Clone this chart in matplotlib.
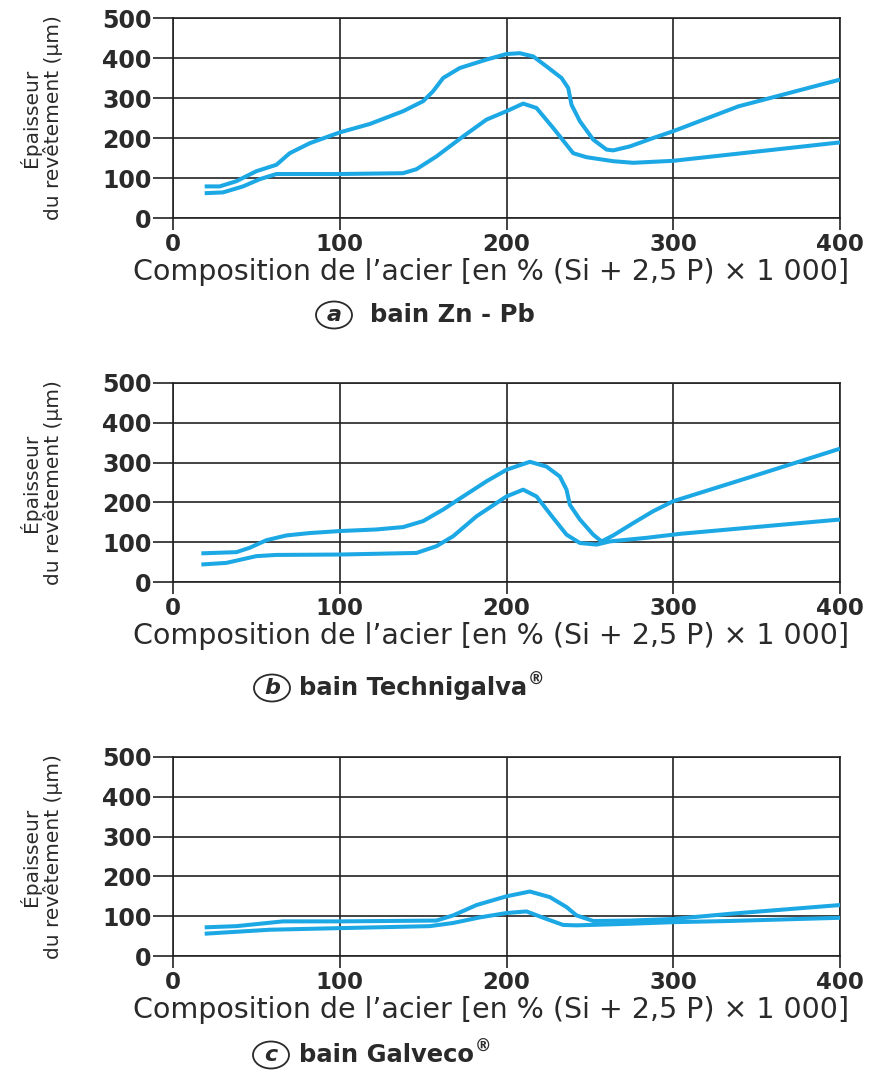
import numpy as np
import matplotlib.pyplot as plt
from matplotlib.patches import Ellipse

plt.rcParams['font.family'] = ['DejaVu Sans']

# panel (a) bain Zn - Pb
xa_up = [19, 28, 38, 50, 62, 70, 82, 100, 118, 138, 150, 156, 162, 172, 188, 200, 208, 216,
         224, 233, 237, 239, 244, 252, 260, 264, 274, 288, 300, 339, 400]
ya_up = [79, 79, 92, 117, 133, 162, 187, 214, 235, 267, 292, 317, 350, 375, 396, 410, 412, 404,
         379, 350, 325, 283, 242, 196, 171, 169, 179, 200, 217, 279, 346]
xa_lo = [19, 30, 42, 52, 62, 100, 138, 146, 158, 174, 188, 200, 210, 218, 228, 236, 240, 248,
         264, 276, 300, 400]
ya_lo = [62, 64, 79, 97, 110, 110, 112, 122, 154, 204, 246, 267, 286, 275, 225, 183, 162, 152,
         142, 138, 143, 189]

# panel (b) bain Technigalva
xb_up = [17, 38, 46, 56, 68, 82, 100, 122, 138, 150, 162, 174, 188, 200, 214, 224, 232, 236,
         238, 244, 252, 257, 264, 276, 288, 300, 345, 400]
yb_up = [72, 75, 86, 105, 117, 123, 128, 132, 138, 153, 182, 215, 253, 282, 302, 290, 265, 232,
         194, 157, 119, 102, 117, 148, 178, 203, 262, 335]
xb_lo = [17, 32, 50, 62, 100, 146, 158, 168, 182, 200, 210, 218, 228, 236, 244, 254, 262, 284,
         304, 400]
yb_lo = [44, 48, 65, 68, 69, 73, 90, 115, 165, 215, 232, 215, 161, 119, 98, 94, 102, 111,
         121, 157]

# panel (c) bain Galveco
xc_up = [19, 38, 66, 100, 158, 168, 182, 200, 214, 226, 236, 242, 252, 274, 300, 334, 400]
yc_up = [72, 75, 87, 87, 89, 102, 128, 150, 162, 148, 123, 102, 88, 89, 93, 106, 128]
xc_lo = [19, 58, 100, 154, 168, 184, 200, 212, 224, 234, 242, 274, 300, 334, 400]
yc_lo = [56, 66, 70, 75, 83, 97, 108, 112, 93, 78, 77, 81, 85, 88, 96]

x_ticks = [0, 100, 200, 300, 400]
y_ticks = [0, 100, 200, 300, 400, 500]
xlabel = 'Composition de l\u2019acier [en % (Si + 2,5 P) \u00d7 1 000]'
ylabel = '\u00c9paisseur\ndu rev\u00eatement (\u00b5m)'
letters = ['a', 'b', 'c']
captions = ['bain Zn - Pb', 'bain Technigalva', 'bain Galveco']
registered = [False, True, True]

panels = [((xa_up, ya_up), (xa_lo, ya_lo)),
          ((xb_up, yb_up), (xb_lo, yb_lo)),
          ((xc_up, yc_up), (xc_lo, yc_lo))]

W, H = 872, 1075
fig = plt.figure(figsize=(W / 100, H / 100), dpi=100)

blue = '#1ca8e4'
dark = '#222222'
txt = '#2a2a2a'

# pixel layout: (top, bottom) of each plot area, caption centre y, circle x, text x
tops = [18, 383, 757]
bots = [218, 582, 956]
cap_y = [315, 688, 1055]
circ_x = [334, 272, 271]
cap_x = [370, 299, 299]
left, right = 173, 840

for i, (curves, top, bot) in enumerate(zip(panels, tops, bots)):
    ax = fig.add_axes([left / W, 1 - bot / H, (right - left) / W, (bot - top) / H])
    for xs, ys in curves:
        ax.plot(xs, ys, color=blue, lw=2.9, solid_joinstyle='round',
                solid_capstyle='butt', zorder=3)
    ax.set_xlim(0, 400)
    ax.set_ylim(0, 500)
    ax.set_xticks(x_ticks)
    ax.set_yticks(y_ticks)
    ax.grid(True, color=dark, lw=1.2, zorder=1)
    for s in ax.spines.values():
        s.set_color(dark)
        s.set_linewidth(1.2)
    ax.tick_params(axis='x', length=8.6, width=1.2, color=dark, pad=2,
                   labelsize=16.5, labelcolor=txt)
    ax.tick_params(axis='y', length=14.4, width=1.2, color=dark, pad=1,
                   labelsize=17, labelcolor=txt)
    for lab in ax.get_xticklabels() + ax.get_yticklabels():
        lab.set_fontweight('bold')

    # labels
    fig.text(491 / W, 1 - (bot + 54) / H, xlabel, ha='center', va='center',
             fontsize=20.5, color=txt)
    fig.text(41 / W, 1 - ((top + bot) / 2) / H, ylabel, ha='center', va='center',
             rotation=90, multialignment='center', fontsize=14.5, color=txt,
             linespacing=1.1)

    # caption with circled letter
    cy = 1 - cap_y[i] / H
    fig.text(circ_x[i] / W, cy, letters[i], ha='center', va='center',
             fontsize=16, style='italic', fontweight='bold', color=txt)
    fig.patches.append(Ellipse((circ_x[i] / W, cy), 36 / W, 27 / H, fill=False,
                               ec=txt, lw=1.3, transform=fig.transFigure, figure=fig))
    t = fig.text(cap_x[i] / W, cy, captions[i], ha='left', va='center',
                 fontsize=17.5, fontweight='bold', color=txt)
    if registered[i]:
        fig.canvas.draw()
        bb = t.get_window_extent()
        fig.text((bb.x1 + 1) / W, (bb.y1 - 4) / H, '\u00ae', ha='left', va='center',
                 fontsize=12, fontweight='bold', color=txt)

fig.savefig('out.png', dpi=100)
